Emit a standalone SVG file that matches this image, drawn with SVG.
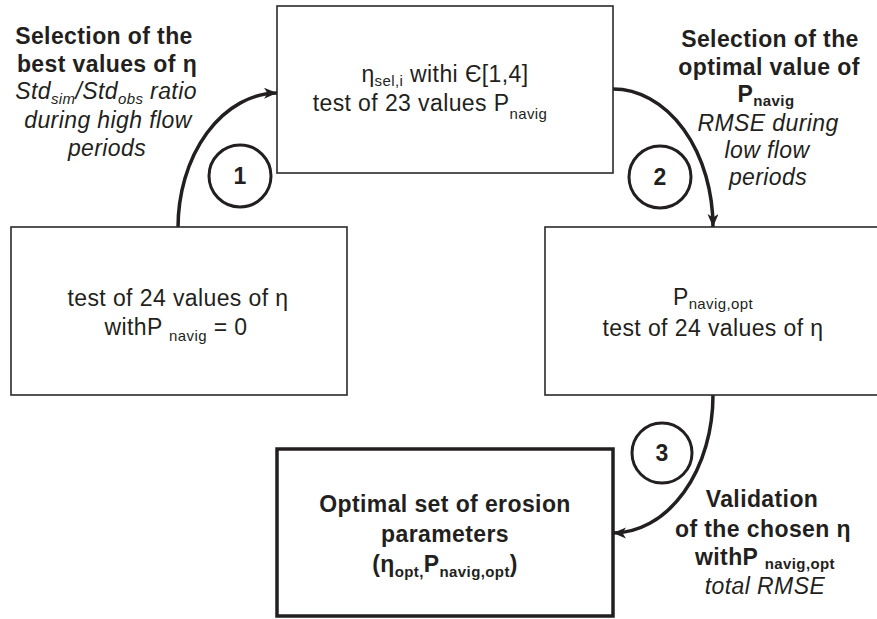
<svg xmlns="http://www.w3.org/2000/svg" width="877" height="619" viewBox="0 0 877 619">
<style>
text{font-family:"Liberation Sans",Arial,Helvetica,sans-serif;fill:#231f20;letter-spacing:0.4px}
.t{font-size:23px;text-anchor:middle}
.b{font-weight:bold}
.i{font-style:italic}
.s{font-size:15px}
.box{fill:#fff;stroke:#2a2a2a;stroke-width:1.6}
.fbox{fill:#fff;stroke:#231f20;stroke-width:3.5}
.num{fill:#fff;stroke:#231f20;stroke-width:3}
.num-t{font-size:23px;font-weight:bold;text-anchor:middle}
.arr{fill:none;stroke:#231f20;stroke-width:3.5;marker-end:url(#ah)}
</style>
<defs>
<marker id="ah" markerUnits="userSpaceOnUse" markerWidth="14" markerHeight="12" refX="13" refY="5.5" orient="auto">
<path d="M0,0 L13,5.5 L0,11 L3.5,5.5 z" fill="#231f20"/>
</marker>
</defs>
<rect width="877" height="619" fill="#fff"/>

<g id="connectors">
<path class="arr" d="M178,228 A100,135 0 0 1 277,93"/>
<path class="arr" d="M613,89 A100,138 0 0 1 713,227"/>
<path class="arr" d="M713,395 A100,138 0 0 1 613,533"/>
</g>

<g id="node-top">
<rect class="box" x="277" y="6" width="336" height="167"/>
<text class="t" x="445" y="82">η<tspan class="s" dy="4">sel,i</tspan><tspan dy="-4"> withi Є[1,4]</tspan></text>
<text class="t" x="430" y="111">test of 23 values P<tspan class="s" dy="8">navig</tspan></text>
</g>

<g id="node-left">
<rect class="box" x="11" y="227" width="336" height="168"/>
<text class="t" x="178" y="306">test of 24 values of η</text>
<text class="t" x="176" y="335">withP <tspan class="s" dy="6">navig</tspan><tspan dy="-6"> = 0</tspan></text>
</g>

<g id="node-right">
<rect class="box" x="545" y="227" width="345" height="168"/>
<text class="t" x="713" y="305">P<tspan class="s" dy="4">navig,opt</tspan></text>
<text class="t" x="713" y="336">test of 24 values of η</text>
</g>

<g id="node-bottom">
<rect class="fbox" x="277" y="449" width="336" height="167"/>
<text class="t b" x="445" y="512">Optimal set of erosion</text>
<text class="t b" x="445" y="542">parameters</text>
<text class="t b" x="445" y="572">(η<tspan class="s" dy="5">opt,</tspan><tspan dy="-5">P</tspan><tspan class="s" dy="5">navig,opt</tspan><tspan dy="-5">)</tspan></text>
</g>

<g id="label-1">
<text class="t b" x="104" y="44">Selection of the</text>
<text class="t b" x="107" y="72">best values of η</text>
<text class="t i" x="106" y="99">Std<tspan class="s" dy="5">sim</tspan><tspan dy="-5">/Std</tspan><tspan class="s" dy="5">obs</tspan><tspan dy="-5"> ratio</tspan></text>
<text class="t i" x="108" y="128">during high flow</text>
<text class="t i" x="107" y="156">periods</text>
</g>

<g id="label-2">
<text class="t b" x="770" y="47">Selection of the</text>
<text class="t b" x="769" y="75">optimal value of</text>
<text class="t b" x="766" y="102">P<tspan class="s" dy="4">navig</tspan></text>
<text class="t i" x="768" y="131">RMSE during</text>
<text class="t i" x="767" y="158">low flow</text>
<text class="t i" x="768" y="185">periods</text>
</g>

<g id="label-3">
<text class="t b" x="762" y="507">Validation</text>
<text class="t b" x="763" y="537">of the chosen η</text>
<text class="t b" x="765" y="565">withP <tspan class="s" dy="4">navig,opt</tspan></text>
<text class="t i" x="765" y="594">total RMSE</text>
</g>

<g id="step-1">
<circle class="num" cx="240" cy="176" r="31"/>
<text class="num-t" x="240" y="184">1</text>
</g>
<g id="step-2">
<circle class="num" cx="660" cy="177" r="31"/>
<text class="num-t" x="660" y="185">2</text>
</g>
<g id="step-3">
<circle class="num" cx="662" cy="453" r="30"/>
<text class="num-t" x="662" y="461">3</text>
</g>
</svg>
